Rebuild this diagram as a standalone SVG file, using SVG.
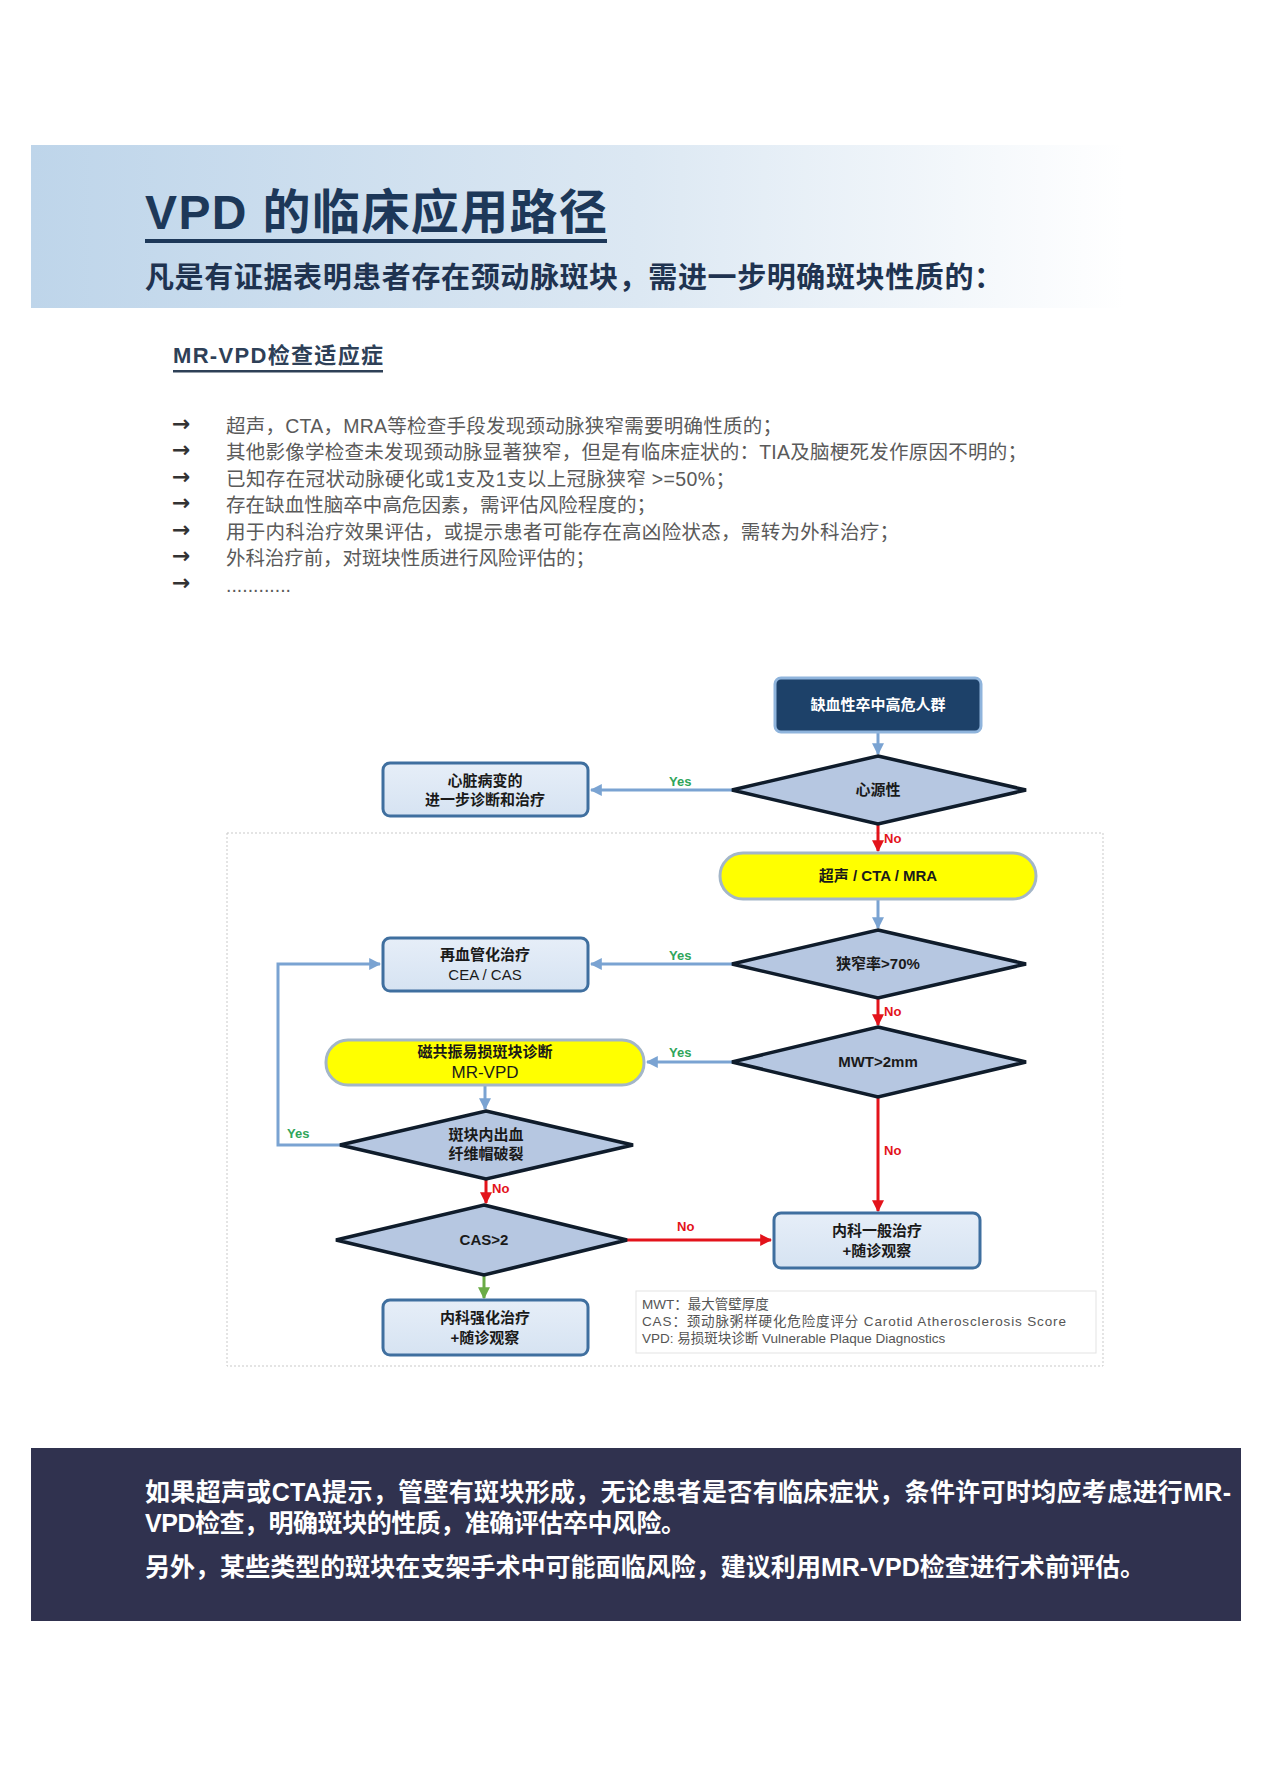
<svg xmlns="http://www.w3.org/2000/svg" width="1280" height="1777" viewBox="0 0 1280 1777">
<defs>
<linearGradient id="hdr" x1="0" y1="0" x2="1" y2="0">
<stop offset="0" stop-color="#bed5ea"/>
<stop offset="0.5" stop-color="#dce8f3"/>
<stop offset="0.9" stop-color="#ffffff"/>
</linearGradient>
<linearGradient id="boxfill" x1="0" y1="0" x2="0" y2="1">
<stop offset="0" stop-color="#e6eef8"/>
<stop offset="1" stop-color="#d6e3f2"/>
</linearGradient>
<marker id="ab" viewBox="0 0 10 10" refX="9" refY="5" markerWidth="4" markerHeight="4" orient="auto" markerUnits="strokeWidth">
<path d="M0,0 L10,5 L0,10 z" fill="#7aa3d2"/>
</marker>
<marker id="ar" viewBox="0 0 10 10" refX="9" refY="5" markerWidth="4" markerHeight="4" orient="auto" markerUnits="strokeWidth">
<path d="M0,0 L10,5 L0,10 z" fill="#e3131b"/>
</marker>
<marker id="ag" viewBox="0 0 10 10" refX="9" refY="5" markerWidth="4" markerHeight="4" orient="auto" markerUnits="strokeWidth">
<path d="M0,0 L10,5 L0,10 z" fill="#6aab46"/>
</marker>
</defs>
<style>
.cjk{font-family:"Liberation Sans","Noto Sans CJK SC",sans-serif}
.title{font-size:48px;font-weight:bold;fill:#1d3859}
.sub{font-size:29px;font-weight:bold;fill:#1f3350}
.sec{font-size:22px;font-weight:bold;fill:#2e4057}
.li{font-size:19.5px;fill:#5a5a5a}
.arr{font-family:"DejaVu Sans",sans-serif;font-size:22px;font-weight:bold;fill:#333}
.nt{font-family:"Liberation Sans","Noto Sans CJK SC",sans-serif;font-size:15px;font-weight:bold;fill:#1a1a1a;text-anchor:middle}
.box{fill:url(#boxfill);stroke:#3f6f9f;stroke-width:3}
.dia{fill:#b6c7e1;stroke:#0f1c2b;stroke-width:3.5;stroke-linejoin:miter}
.pill{fill:#ffff00;stroke:#a3b6c8;stroke-width:3}
.cb{fill:none;stroke:#7aa3d2;stroke-width:3;marker-end:url(#ab)}
.cr{fill:none;stroke:#e3131b;stroke-width:3;marker-end:url(#ar)}
.cg{fill:none;stroke:#6aab46;stroke-width:3;marker-end:url(#ag)}
.yes{font-family:"Liberation Sans",sans-serif;font-size:13px;font-weight:bold;fill:#2fa55a}
.no{font-family:"Liberation Sans",sans-serif;font-size:13px;font-weight:bold;fill:#e3131b}
.lg{font-family:"Liberation Sans","Noto Sans CJK SC",sans-serif;font-size:13.5px;fill:#555}
.bt{font-family:"Liberation Sans","Noto Sans CJK SC",sans-serif;font-size:25px;font-weight:bold;fill:#ffffff}
</style>
<rect width="1280" height="1777" fill="#ffffff"/>

<g id="header">
<rect x="31" y="145" width="1215" height="163" fill="url(#hdr)"/>
<text class="cjk title" x="145" y="229" textLength="462">VPD 的临床应用路径</text>
<rect x="145" y="239" width="462" height="4" fill="#1d3859"/>
<text class="cjk sub" x="145" y="288" textLength="858">凡是有证据表明患者存在颈动脉斑块，需进一步明确斑块性质的：</text>
</g>

<g id="indications">
<text class="cjk sec" x="173" y="363" textLength="210">MR-VPD检查适应症</text>
<rect x="173" y="370" width="210" height="2.5" fill="#2e4057"/>
<text class="arr" x="172" y="431">→</text>
<text class="arr" x="172" y="457">→</text>
<text class="arr" x="172" y="484">→</text>
<text class="arr" x="172" y="510">→</text>
<text class="arr" x="172" y="537">→</text>
<text class="arr" x="172" y="563">→</text>
<text class="arr" x="172" y="590">→</text>
<text class="cjk li" x="226" y="433" textLength="556">超声，CTA，MRA等检查手段发现颈动脉狭窄需要明确性质的；</text>
<text class="cjk li" x="226" y="459" textLength="801">其他影像学检查未发现颈动脉显著狭窄，但是有临床症状的：TIA及脑梗死发作原因不明的；</text>
<text class="cjk li" x="226" y="486" textLength="509">已知存在冠状动脉硬化或1支及1支以上冠脉狭窄 &gt;=50%；</text>
<text class="cjk li" x="226" y="512" textLength="430">存在缺血性脑卒中高危因素，需评估风险程度的；</text>
<text class="cjk li" x="226" y="539" textLength="673">用于内科治疗效果评估，或提示患者可能存在高凶险状态，需转为外科治疗；</text>
<text class="cjk li" x="226" y="565" textLength="369">外科治疗前，对斑块性质进行风险评估的；</text>
<text class="cjk li" x="226" y="592" textLength="65">............</text>
</g>

<rect id="frame" x="227" y="833" width="876" height="533" fill="none" stroke="#c9c9c9" stroke-width="1" stroke-dasharray="2,2"/>

<g id="connectors">
<line class="cb" x1="878" y1="732" x2="878" y2="754"/>
<line class="cb" x1="732" y1="790" x2="591" y2="790"/>
<line class="cr" x1="878" y1="824" x2="878" y2="851"/>
<line class="cb" x1="878" y1="899" x2="878" y2="928"/>
<line class="cb" x1="732" y1="964" x2="591" y2="964"/>
<line class="cr" x1="878" y1="998" x2="878" y2="1025"/>
<line class="cb" x1="732" y1="1062" x2="647" y2="1062"/>
<line class="cb" x1="485" y1="1085" x2="485" y2="1109"/>
<polyline class="cb" points="340,1145 278,1145 278,964 380,964"/>
<line class="cr" x1="486" y1="1179" x2="486" y2="1203"/>
<line class="cr" x1="627" y1="1240" x2="771" y2="1240"/>
<line class="cr" x1="878" y1="1097" x2="878" y2="1211"/>
<line class="cg" x1="484" y1="1275" x2="484" y2="1298"/>
<text class="yes" x="669" y="786">Yes</text>
<text class="no" x="884" y="843">No</text>
<text class="yes" x="669" y="960">Yes</text>
<text class="no" x="884" y="1016">No</text>
<text class="yes" x="669" y="1057">Yes</text>
<text class="yes" x="287" y="1138">Yes</text>
<text class="no" x="492" y="1193">No</text>
<text class="no" x="677" y="1231">No</text>
<text class="no" x="884" y="1155">No</text>
</g>

<g id="n-start">
<rect x="775" y="678" width="206" height="54" rx="6" fill="#1d4169" stroke="#8fb4dc" stroke-width="3"/>
<text class="nt" x="878" y="710" style="fill:#ffffff">缺血性卒中高危人群</text>
</g>

<g id="d-cardiac">
<polygon class="dia" points="878,756 1026,790 878,824 732,790"/>
<text class="nt" x="878" y="795">心源性</text>
</g>

<g id="n-heart">
<rect class="box" x="383" y="763" width="205" height="53" rx="7"/>
<text class="nt" x="485" y="786">心脏病变的</text>
<text class="nt" x="485" y="805">进一步诊断和治疗</text>
</g>

<g id="n-imaging">
<rect class="pill" x="720" y="853" width="316" height="46" rx="23"/>
<text class="nt" x="878" y="881">超声 / CTA / MRA</text>
</g>

<g id="d-stenosis">
<polygon class="dia" points="878,930 1026,964 878,998 732,964"/>
<text class="nt" x="878" y="969">狭窄率&gt;70%</text>
</g>

<g id="n-revasc">
<rect class="box" x="383" y="938" width="205" height="53" rx="7"/>
<text class="nt" x="485" y="960">再血管化治疗</text>
<text class="nt" x="485" y="980" style="font-weight:normal">CEA / CAS</text>
</g>

<g id="d-mwt">
<polygon class="dia" points="878,1027 1026,1062 878,1097 732,1062"/>
<text class="nt" x="878" y="1067">MWT&gt;2mm</text>
</g>

<g id="n-mrvpd">
<rect class="pill" x="326" y="1040" width="318" height="45" rx="22"/>
<text class="nt" x="485" y="1057">磁共振易损斑块诊断</text>
<text class="nt" x="485" y="1078" style="font-size:17px;font-weight:normal">MR-VPD</text>
</g>

<g id="d-hemorrhage">
<polygon class="dia" points="486,1111 633,1145 486,1179 340,1145"/>
<text class="nt" x="486" y="1140">斑块内出血</text>
<text class="nt" x="486" y="1159">纤维帽破裂</text>
</g>

<g id="d-cas">
<polygon class="dia" points="484,1205 627,1240 484,1275 336,1240"/>
<text class="nt" x="484" y="1245">CAS&gt;2</text>
</g>

<g id="n-general">
<rect class="box" x="774" y="1213" width="206" height="55" rx="7"/>
<text class="nt" x="877" y="1236">内科一般治疗</text>
<text class="nt" x="877" y="1256">+随诊观察</text>
</g>

<g id="n-intensive">
<rect class="box" x="383" y="1300" width="205" height="55" rx="7"/>
<text class="nt" x="485" y="1323">内科强化治疗</text>
<text class="nt" x="485" y="1343">+随诊观察</text>
</g>

<g id="legend">
<rect x="636" y="1291" width="460" height="62" fill="#ffffff" stroke="#e3e3e3" stroke-width="1"/>
<text class="lg" x="642" y="1309">MWT：最大管壁厚度</text>
<text class="lg" x="642" y="1326" textLength="424">CAS：颈动脉粥样硬化危险度评分   Carotid Atherosclerosis Score</text>
<text class="lg" x="642" y="1343">VPD: 易损斑块诊断 Vulnerable Plaque Diagnostics</text>
</g>

<g id="footer">
<rect x="31" y="1448" width="1210" height="173" fill="#30324f"/>
<text class="bt" x="145" y="1501" textLength="1086">如果超声或CTA提示，管壁有斑块形成，无论患者是否有临床症状，条件许可时均应考虑进行MR-</text>
<text class="bt" x="145" y="1532" textLength="541">VPD检查，明确斑块的性质，准确评估卒中风险。</text>
<text class="bt" x="145" y="1576" textLength="1000">另外，某些类型的斑块在支架手术中可能面临风险，建议利用MR-VPD检查进行术前评估。</text>
</g>
</svg>
